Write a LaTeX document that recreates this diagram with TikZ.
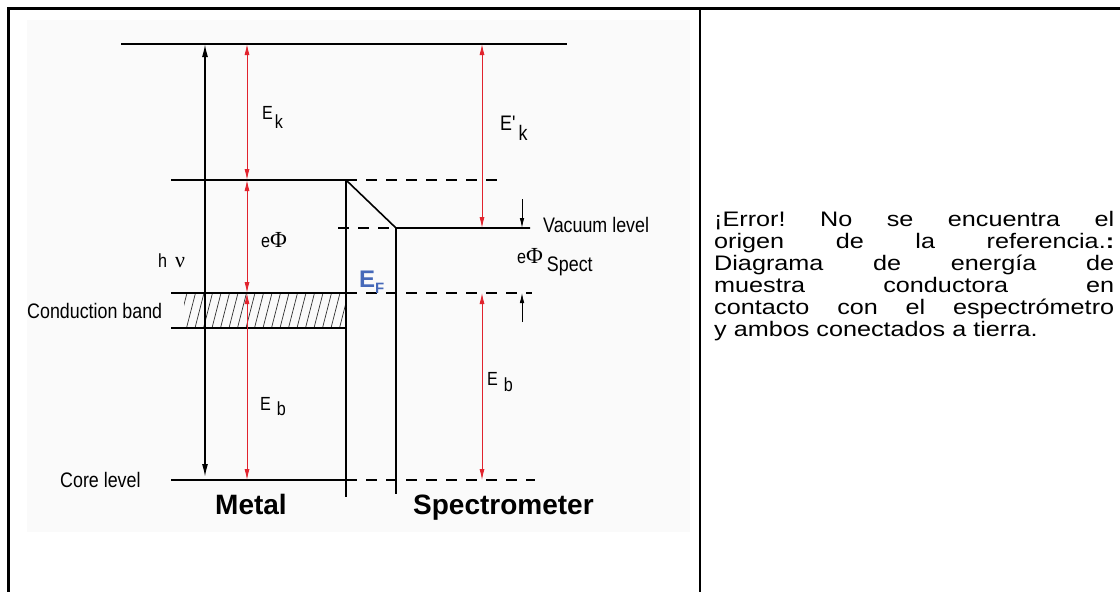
\documentclass[tikz,border=0pt]{standalone}
\usepackage{fontspec}
\setmainfont{Liberation Sans}
\newfontfamily\diagfont[FakeStretch=0.85]{Liberation Sans}
\newfontfamily\greekfont{Liberation Serif}
\newfontfamily\capfont[FakeStretch=1.2]{Liberation Sans}
\usetikzlibrary{arrows.meta}
\definecolor{arrowred}{RGB}{225,35,45}
\definecolor{fermiblue}{RGB}{70,105,185}
\definecolor{panelgray}{RGB}{250,250,250}

\begin{document}
\begin{tikzpicture}[x=1pt,y=-1pt,
    enlevel/.style={line width=1.6pt},
    guideline/.style={line width=1.6pt, dash pattern=on 11pt off 9pt},
    wall/.style={line width=1.5pt},
    redarrow/.style={arrowred, line width=0.9pt, {Latex[length=11pt,width=5pt]}-{Latex[length=11pt,width=5pt]}},
    photon/.style={line width=1.5pt, {Latex[length=13pt,width=6pt]}-{Latex[length=13pt,width=6pt]}},
    smallarrow/.style={line width=0.8pt, -{Latex[length=10pt,width=4.5pt]}},
    hatch/.style={line width=0.7pt, black!80},
    lbl/.style={font=\diagfont\fontsize{21}{21}\selectfont, inner sep=0pt, anchor=base west},
    sym/.style={font=\diagfont\fontsize{19}{19}\selectfont, inner sep=0pt, anchor=base west},
    heading/.style={font=\fontsize{28}{28}\selectfont\bfseries, inner sep=0pt, anchor=base west},
    tableline/.style={line width=2.5pt}]
  \useasboundingbox (0,0) rectangle (1120,592);

  % Table frame
  \draw[tableline] (8.5,592) -- (8.5,8.5) -- (1120,8.5);
  \draw[tableline] (700,8.5) -- (700,592);
  \fill[panelgray] (27,20) rectangle (690,532);

  % Levels and positions
  \coordinate (top) at (121,44);
  \coordinate (vacM) at (171,180);
  \coordinate (vacS) at (396,228);
  \coordinate (fermi) at (171,293);
  \coordinate (cbB) at (171,328);
  \coordinate (core) at (171,480);
  \coordinate (xhv) at (205,0);
  \coordinate (xek) at (247,0);
  \coordinate (xmet) at (346,0);
  \coordinate (xek2) at (482,0);
  \coordinate (xtick) at (522,0);
  \coordinate (hvEnd) at (205,477);

  % Conduction band hatching
  \begin{scope}
    \clip (184,293) rectangle (346,328);
    \foreach \i in {0,...,19}
      \draw[hatch] ({178+8.5*\i},328) -- ({187+8.5*\i},293);
  \end{scope}

  % Metal levels
  \draw[enlevel] (top) -- (567,44);
  \draw[enlevel] (vacM) -- (xmet |- vacM) -- (vacS) -- (530,228);
  \draw[enlevel] (fermi) -- (xmet |- fermi);
  \draw[enlevel] (cbB) -- (xmet |- cbB);
  \draw[enlevel] (core) -- (xmet |- core);
  \draw[wall] (xmet |- vacM) -- (346,497);
  \draw[wall] (vacS) -- (396,494);

  % Spectrometer side (dashed)
  \draw[guideline] (xmet |- vacM) -- (497,180);
  \draw[guideline] (338,228) -- (vacS);
  \draw[guideline] (xmet |- fermi) -- (532,293);
  \draw[guideline] (xmet |- core) -- (535,480);

  % Arrows
  \draw[photon] (xhv |- top) -- (hvEnd);
  \draw[redarrow] (xek |- top) -- (xek |- vacM);
  \draw[redarrow] (xek |- vacM) -- (xek |- fermi);
  \draw[redarrow] (xek |- fermi) -- (xek |- core);
  \draw[redarrow] (xek2 |- top) -- (xek2 |- vacS);
  \draw[redarrow] (xek2 |- fermi) -- (xek2 |- core);
  \draw[smallarrow] (522,199) -- (xtick |- vacS);
  \draw[smallarrow] (522,322) -- (xtick |- fermi);

  % Labels
  \node[sym] (ek) at (262,119) {E\hspace{2pt}\raisebox{-9pt}{k}};
  \node[lbl] (ekp) at (500,130) {E'\hspace{3pt}\raisebox{-10pt}{k}};
  \node[sym] (ephi) at (261,247) {e{\greekfont\fontsize{23}{23}\selectfont Φ}};
  \node[sym] (hnu) at (158,267) {h\hspace{8pt}{\greekfont\fontsize{22}{22}\selectfont ν}};
  \node[anchor=base west, inner sep=0pt, text=fermiblue, font=\fontsize{24}{24}\selectfont\bfseries] (ef) at (359,287) {E\raisebox{-6pt}{\fontsize{15}{15}\selectfont F}};
  \node[lbl] (vaclbl) at (543,232) {Vacuum level};
  \node[sym] (phispec) at (517,263) {e{\greekfont\fontsize{23}{23}\selectfont Φ}\hspace{4pt}\raisebox{-8pt}{\fontsize{21}{21}\selectfont Spect}};
  \node[lbl] (cblbl) at (27,318) {Conduction band};
  \node[sym] (eb) at (260,410) {E\hspace{6pt}\raisebox{-5pt}{b}};
  \node[sym] (eb2) at (487,385) {E\hspace{6pt}\raisebox{-6pt}{b}};
  \node[lbl] (corelbl) at (60,487) {Core level};
  \node[heading] (metal) at (215,514) {Metal};
  \node[heading] (spectro) at (413,514) {Spectrometer};

  % Caption
  \node[anchor=north west, inner sep=0pt, text width=400pt, align=justify,
        font=\capfont\fontsize{21}{22}\selectfont] (caption) at (714,211)
    {\frenchspacing\hyphenpenalty=10000 ¡Error! No se encuentra el\linebreak origen de la referencia.\textbf{:}\linebreak Diagrama de energía de\linebreak muestra conductora en\linebreak contacto con el espectrómetro\linebreak y ambos conectados a tierra.};
\end{tikzpicture}
\end{document}
